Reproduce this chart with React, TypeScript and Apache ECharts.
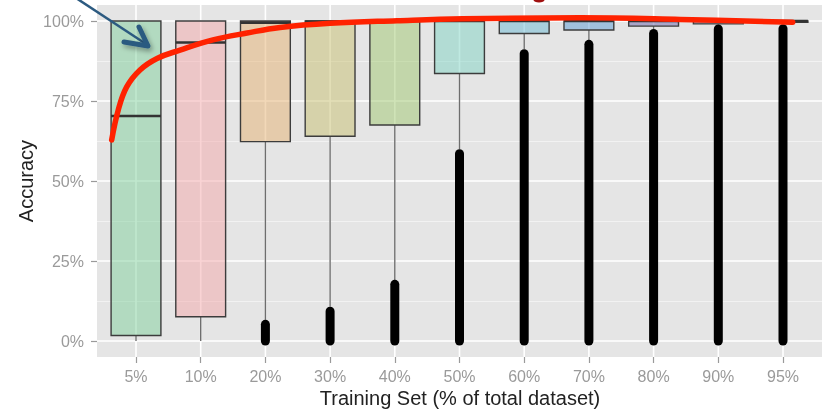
import React, { useEffect, useRef } from 'react';
import * as echarts from 'echarts';

const categories = ['5%', '10%', '20%', '30%', '40%', '50%', '60%', '70%', '80%', '90%', '95%'];
const whiskerLow = [0, 0, 6.6, 10.7, 19.1, 59.9, 91.2, 94.1, 97.5, 98.9, 99.0];
const q1 = [1.7, 7.6, 62.3, 64.0, 67.5, 83.6, 96.1, 97.2, 98.4, 99.1, 99.6];
const median = [70.3, 93.3, 99.5, 99.8, 100, 100, 100, 100, 100, 100, 100];
const q3 = [100, 100, 100, 100, 100, 100, 100, 100, 100, 100, 100];
const outlierLow = [null, null, 0, 0, 0, 0, 0, 0, 0, 0, 0];
const outlierHigh = [null, null, 5.2, 9.3, 17.7, 58.5, 89.8, 92.7, 96.1, 97.5, 97.6];
const boxColors = [
  'rgba(127,207,155,0.5)',
  'rgba(243,167,169,0.5)',
  'rgba(229,177,113,0.5)',
  'rgba(199,191,111,0.5)',
  'rgba(159,199,111,0.5)',
  'rgba(127,211,195,0.5)',
  'rgba(107,185,211,0.5)',
  'rgba(91,155,211,0.5)',
  'rgba(111,101,171,0.5)',
  'rgba(151,131,171,0.5)',
  'rgba(60,60,60,0.8)',
];
// red trend curve, x in category-index units, y in %
const curveX = [-0.376, -0.274, -0.144, 0.062, 0.325, 0.68, 1.19, 1.716, 2.226, 3.0, 4.03, 5.05, 6.86, 8.41, 10.15];
const curveY = [62.8, 72.2, 79.4, 84.7, 88.3, 90.9, 94.1, 96.25, 98.0, 99.3, 100.1, 100.7, 101.0, 100.5, 99.6];

const FONT = '"Liberation Sans", Arial, Helvetica, sans-serif';

export default function App() {
  const ref = useRef<HTMLDivElement>(null);
  useEffect(() => {
    if (!ref.current) return;
    const chart = echarts.init(ref.current, null, { renderer: 'svg' });
    const boxData = categories.map((_, i) => [i, whiskerLow[i], q1[i], median[i], q3[i]]);
    const outData = categories
      .map((_, i) => [i, outlierLow[i], outlierHigh[i]])
      .filter((d) => d[1] !== null && d[2] !== null);
    // panel spans 97..822; categories occupy 103.65..815.35 (ggplot 0.6-band expansion)
    const option: any = {
      animation: false,
      textStyle: { fontFamily: FONT },
      grid: [
        { left: 97, right: 5, top: 5, bottom: 53, show: true, backgroundColor: '#e5e5e5', borderWidth: 0 },
        { left: 97, right: 5, top: 21, bottom: 69, show: false },
        { left: 103.65, right: 11.65, top: 5, bottom: 53, show: false },
        { left: 103.65, right: 11.65, top: 21, bottom: 69, show: false },
      ],
      xAxis: [
        { type: 'value', gridIndex: 0, min: 0, max: 1, show: false },
        { type: 'value', gridIndex: 1, min: 0, max: 1, show: false },
        {
          type: 'category',
          gridIndex: 2,
          data: categories,
          axisLine: { show: false },
          axisTick: { show: true, alignWithLabel: true, length: 6, lineStyle: { color: '#9a9a9a', width: 1.2 } },
          axisLabel: { color: '#9a9a9a', fontSize: 16, margin: 11, fontFamily: FONT },
          splitLine: { show: false },
        },
        { type: 'category', gridIndex: 3, data: categories, show: false },
        { type: 'value', gridIndex: 3, min: -0.5, max: 10.5, show: false },
      ],
      yAxis: [
        { type: 'value', gridIndex: 0, min: 0, max: 1, show: false },
        {
          type: 'value',
          gridIndex: 1,
          min: 0,
          max: 100,
          interval: 25,
          axisLine: { show: false },
          axisTick: { show: true, length: 6, lineStyle: { color: '#9a9a9a', width: 1.2 } },
          axisLabel: { formatter: '{value}%', color: '#9a9a9a', fontSize: 16, margin: 13, fontFamily: FONT },
          splitLine: { show: true, lineStyle: { color: '#ffffff', width: 1.6 } },
          minorTick: { show: false, splitNumber: 2 },
          minorSplitLine: { show: true, lineStyle: { color: '#f2f2f2', width: 1 } },
        },
        { type: 'value', gridIndex: 2, min: 0, max: 1, show: false },
        { type: 'value', gridIndex: 3, min: 0, max: 100, show: false },
      ],
      series: [
        {
          type: 'custom',
          name: 'vgrid',
          xAxisIndex: 2,
          yAxisIndex: 2,
          z: 1,
          silent: true,
          data: categories.map((_, i) => [i]),
          renderItem: (params: any, api: any) => {
            const x = api.coord([api.value(0), 0])[0];
            const cs = params.coordSys;
            return {
              type: 'line',
              shape: { x1: x, y1: cs.y, x2: x, y2: cs.y + cs.height },
              style: { stroke: '#ffffff', lineWidth: 1.6 },
            };
          },
        },
        {
          type: 'custom',
          name: 'boxes',
          xAxisIndex: 3,
          yAxisIndex: 3,
          z: 3,
          data: boxData,
          encode: { x: 0, y: [1, 2, 3, 4] },
          renderItem: (params: any, api: any) => {
            const i = api.value(0);
            const w = api.size([1, 0])[0] * 0.77;
            const x = api.coord([i, 0])[0];
            const yLo = api.coord([i, api.value(1)])[1];
            const yQ1 = api.coord([i, api.value(2)])[1];
            const yMed = api.coord([i, api.value(3)])[1];
            const yQ3 = api.coord([i, api.value(4)])[1];
            return {
              type: 'group',
              children: [
                {
                  type: 'line',
                  shape: { x1: x, y1: yQ1, x2: x, y2: yLo },
                  style: { stroke: '#6e6e6e', lineWidth: 1.4 },
                },
                {
                  type: 'rect',
                  shape: { x: x - w / 2, y: yQ3, width: w, height: Math.max(yQ1 - yQ3, 0.5) },
                  style: { fill: boxColors[params.dataIndex], stroke: '#3c3c3c', lineWidth: 1.4 },
                },
                {
                  type: 'line',
                  shape: { x1: x - w / 2, y1: yMed, x2: x + w / 2, y2: yMed },
                  style: { stroke: '#333333', lineWidth: 2.6 },
                },
              ],
            };
          },
        },
        {
          type: 'custom',
          name: 'outliers',
          xAxisIndex: 3,
          yAxisIndex: 3,
          z: 4,
          data: outData,
          encode: { x: 0, y: [1, 2] },
          renderItem: (params: any, api: any) => {
            const i = api.value(0);
            const x = api.coord([i, 0])[0];
            const yLo = api.coord([i, api.value(1)])[1];
            const yHi = api.coord([i, api.value(2)])[1];
            const r = 4.5;
            return {
              type: 'rect',
              shape: { x: x - r, y: yHi - r, width: 2 * r, height: yLo - yHi + 2 * r, r: r },
              style: { fill: '#000000' },
            };
          },
        },
        {
          type: 'line',
          name: 'trend',
          xAxisIndex: 4,
          yAxisIndex: 3,
          z: 5,
          clip: false,
          smooth: 0.4,
          symbol: 'none',
          data: curveX.map((x, i) => [x, curveY[i]]),
          lineStyle: { color: '#ff2200', width: 5.5, cap: 'round' },
        },
      ],
      graphic: [
        {
          type: 'text',
          x: 460,
          y: 398,
          style: {
            text: 'Training Set (% of total dataset)',
            fontSize: 20,
            fontFamily: FONT,
            fill: '#222222',
            align: 'center',
            verticalAlign: 'middle',
          },
        },
        {
          type: 'text',
          x: 26,
          y: 181,
          rotation: Math.PI / 2,
          style: {
            text: 'Accuracy',
            fontSize: 20,
            fontFamily: FONT,
            fill: '#222222',
            align: 'center',
            verticalAlign: 'middle',
          },
        },
        {
          type: 'ellipse',
          shape: { cx: 539, cy: 0, rx: 5.5, ry: 2.5 },
          style: { fill: '#a01010' },
        },
        {
          type: 'line',
          z: 10,
          shape: { x1: 76, y1: -2, x2: 146, y2: 44 },
          style: { stroke: '#2c5a80', lineWidth: 2.5 },
        },
        {
          type: 'polyline',
          z: 10,
          shape: { points: [[124, 42], [148, 46], [139, 27]] },
          style: {
            stroke: '#2c5a80',
            lineWidth: 5,
            lineJoin: 'round',
            lineCap: 'round',
            fill: null,
            shadowBlur: 5,
            shadowColor: 'rgba(0,0,0,0.35)',
            shadowOffsetX: 2,
            shadowOffsetY: 3,
          },
        },
      ],
    };
    chart.setOption(option);
    return () => chart.dispose();
  }, []);
  return <div ref={ref} style={{ position: 'fixed', left: 0, top: 0, width: 827, height: 410 }} />;
}
